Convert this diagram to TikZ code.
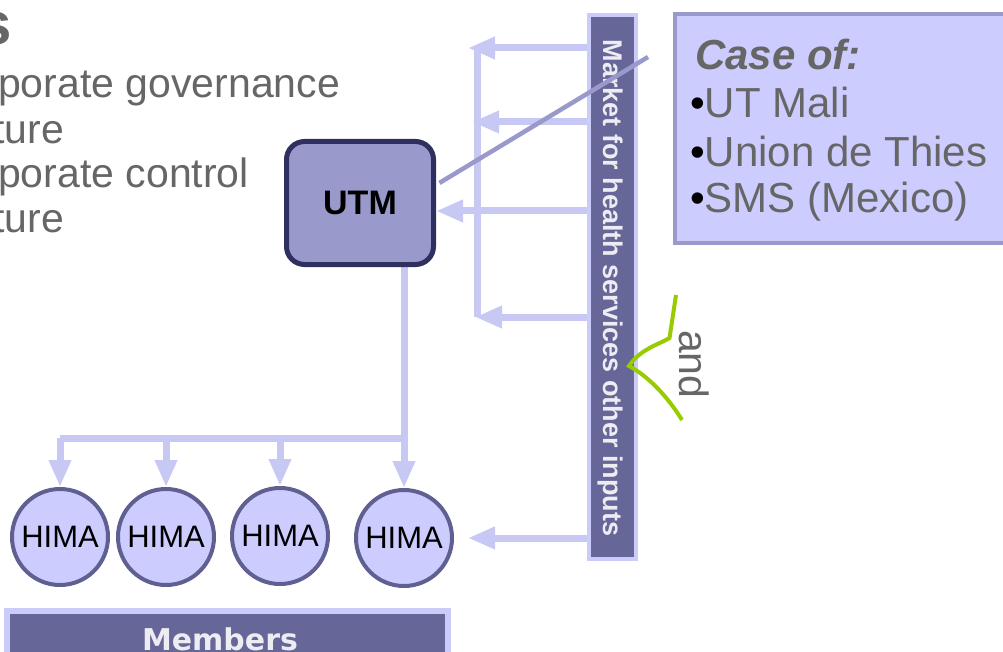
\documentclass[tikz,border=0pt]{standalone}
\usepackage{fontspec}
\setmainfont{Liberation Sans}
\newfontfamily\widesans{DejaVu Sans}
\usetikzlibrary{arrows.meta}

\definecolor{flowc}{RGB}{200,200,245}
\definecolor{barfill}{RGB}{102,102,153}
\definecolor{barrim}{RGB}{204,204,250}
\definecolor{utmfill}{RGB}{153,153,204}
\definecolor{utmrim}{RGB}{48,48,96}
\definecolor{himafill}{RGB}{204,204,255}
\definecolor{himarim}{RGB}{95,95,145}
\definecolor{casefill}{RGB}{204,204,255}
\definecolor{caserim}{RGB}{153,153,204}
\definecolor{txtgray}{RGB}{102,102,102}
\definecolor{bracegreen}{RGB}{153,204,0}
\definecolor{bartext}{RGB}{236,236,242}

\newcommand\setfs[1]{\fontsize{#1}{#1}\selectfont}

\pgfdeclarelayer{bg}
\pgfsetlayers{bg,main}

\begin{document}
\begin{tikzpicture}[x=1pt,y=-1pt,
  flow/.style={draw=flowc,line width=7pt},
  flowarrow/.style={flow,-{Triangle[width=21pt,length=27pt]}},
  utmbox/.style={draw=utmrim,fill=utmfill,line width=5pt,rounded corners=18pt,
    minimum width=147pt,minimum height=123pt,inner sep=0pt},
  himanode/.style={circle,draw=himarim,fill=himafill,line width=4pt,
    minimum size=96pt,inner sep=0pt,font=\setfs{31}},
  barbox/.style={draw=barrim,fill=barfill,line width=4pt,inner sep=0pt},
  casebox/.style={draw=caserim,fill=casefill,line width=4pt,inner sep=0pt},
  plaintext/.style={inner sep=0pt,text=txtgray},
  caseline/.style={draw=caserim,line width=4.5pt},
  brace/.style={draw=bracegreen,line width=4pt}]

\useasboundingbox (0,0) rectangle (1003,652);
\clip (0,0) rectangle (1003,652);

% text on the left
\node[plaintext,anchor=base east] (title) at (12,45) {\setfs{60}\bfseries s};
\node[plaintext,anchor=base west] (gov1) at (-2,98) {\setfs{41}porate governance};
\node[plaintext,anchor=base west] (gov2) at (-7,144) {\setfs{41}ture};
\node[plaintext,anchor=base west] (ctl1) at (-2,188) {\setfs{41}porate control};
\node[plaintext,anchor=base west] (ctl2) at (-7,233) {\setfs{41}ture};

% main boxes
\node[utmbox] (utm) at (360,203) {\setfs{34}\bfseries UTM};
\node[barbox,minimum width=47pt,minimum height=544.5pt] (market) at (612.5,287) {};
\node[inner sep=0pt,rotate=-90,anchor=base,text=bartext] (markettext) at (603,288)
  {\setfs{27}\bfseries Market for health services other inputs};

\node[casebox,minimum width=335pt,minimum height=229pt] (casebox) at (842.5,128.5) {};
\node[plaintext,anchor=base west] (casehead) at (695,70) {\setfs{42}\bfseries\itshape Case of:};
\node[plaintext,anchor=base west] (case1) at (690,118) {\setfs{42}\textcolor{black}{•}UT Mali};
\node[plaintext,anchor=base west] (case2) at (690,167) {\setfs{42}\textcolor{black}{•}Union de Thies};
\node[plaintext,anchor=base west] (case3) at (690,213) {\setfs{42}\textcolor{black}{•}SMS (Mexico)};

% members
\node[himanode] (h1) at (60,537) {HIMA};
\node[himanode] (h2) at (166,537) {HIMA};
\node[himanode] (h3) at (280,536) {HIMA};
\node[himanode] (h4) at (404,538) {HIMA};
\node[barbox,line width=6pt,minimum width=441pt,minimum height=59pt] (members) at (227.5,640.5) {};
\node[inner sep=0pt,anchor=base,text=bartext] (memberstext) at (220,650)
  {\widesans\setfs{30}\bfseries Members};

% flows behind the boxes
\begin{pgfonlayer}{bg}
  \coordinate (j1) at (468,48);
  \coordinate (j2) at (472,122);
  \coordinate (j4) at (475,317);
  \coordinate (spinetop) at (477,48);
  \coordinate (spinebot) at (477,317);
  \draw[flowarrow] (market.west |- j1) -- (j1);
  \draw[flowarrow] (market.west |- j2) -- (j2);
  \draw[flowarrow] (market.west |- 0,211) -- (utm.east |- 0,211);
  \draw[flowarrow] (market.west |- j4) -- (j4);
  \draw[flow] (spinetop) -- (spinebot);
  \draw[flowarrow,shorten >=14pt] (market.west |- h4) -- (h4.east);
  \draw[flowarrow] (utm.south -| h4) -- (h4.north);
  \draw[flow] (h1.north |- 0,438) -- (h4.north |- 0,438);
  \foreach \h in {h1,h2,h3}
    \draw[flowarrow] (\h.north |- 0,438) -- (\h.north);
\end{pgfonlayer}

% pointer from the case box
\coordinate (caseptr) at (648,57);
\draw[caseline,shorten >=4pt] (caseptr) -- (utm.east |- 0,185);

% brace and its word
\draw[brace] (676,295) -- (669.5,338) .. controls (660,344) and (640,349) .. (629,366)
  .. controls (648,376) and (668,397) .. (682,420);
\node[plaintext,rotate=-90,anchor=base west] (andtxt) at (679,330) {\setfs{41}and};

\end{tikzpicture}
\end{document}
